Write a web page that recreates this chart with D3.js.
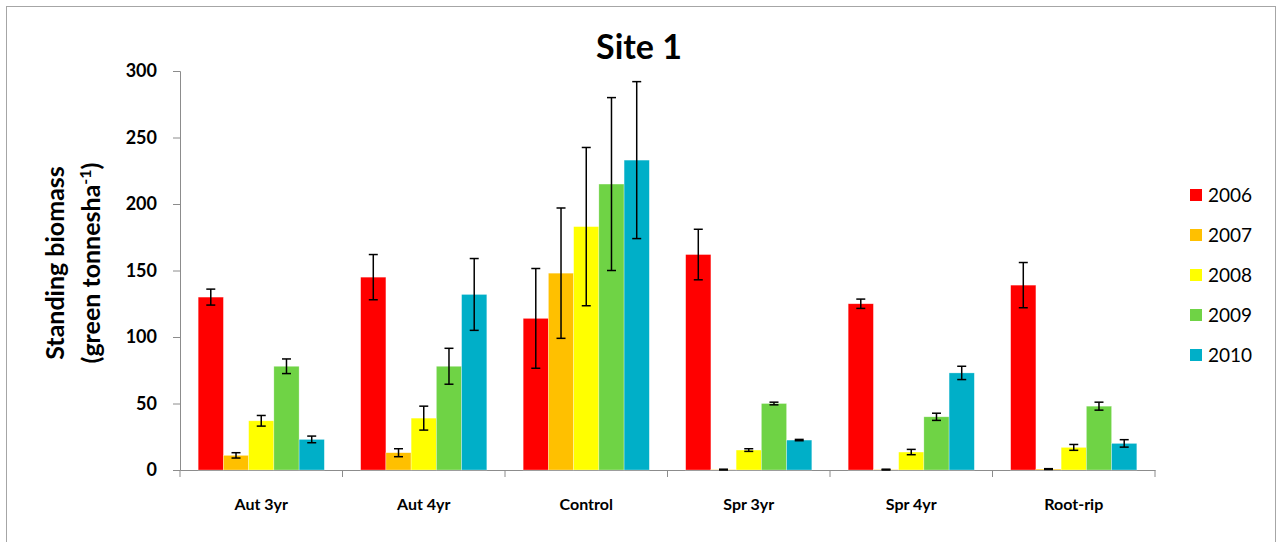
<!DOCTYPE html>
<html lang="en">
<head>
    <meta charset="UTF-8">
    <title>Site 1</title>
    <script src="https://d3js.org/d3.v7.min.js"></script>
    <style>
        body { margin: 0; background: #fff; font-family: Lato, "Open Sans", sans-serif; }
        svg { display: block; }
        .axis path, .axis line { stroke: #8c8c8c; }
    </style>
</head>
<body>
    <svg width="1282" height="542" id="svg"></svg>

    <script>
        // data
        const categories = ["Aut 3yr", "Aut 4yr", "Control", "Spr 3yr", "Spr 4yr", "Root-rip"];
        const years = ["2006", "2007", "2008", "2009", "2010"];
        const colors = ["#ff0000", "#ffc000", "#ffff00", "#6fd345", "#00afc8"];

        const v2006 = [130, 145, 114, 162, 125, 139];
        const v2007 = [11, 13, 148, 0.3, 0.3, 0.7];
        const v2008 = [37, 39, 183, 15, 13.5, 17];
        const v2009 = [78, 78, 215, 50, 40, 48];
        const v2010 = [23, 132, 233, 22.5, 73, 20];

        const e2006 = [6, 17, 37.5, 19, 3.5, 17];
        const e2007 = [2, 3, 49, 0.3, 0.3, 0.3];
        const e2008 = [4, 9, 59.5, 1, 2, 2.2];
        const e2009 = [5.5, 13.5, 65, 1, 2.7, 3];
        const e2010 = [2.5, 27, 59, 0.5, 5, 2.8];

        const yTicks = [0, 50, 100, 150, 200, 250, 300];

        const values = [v2006, v2007, v2008, v2009, v2010];
        const errors = [e2006, e2007, e2008, e2009, e2010];

        const svg = d3.select("#svg");
        const margin = { top: 71, right: 127, bottom: 72, left: 180 };
        const width = 1282, height = 542;

        // outer frame
        svg.append("rect")
            .attr("x", 6.5).attr("y", 6.5)
            .attr("width", 1269).attr("height", 560)
            .attr("fill", "none")
            .attr("stroke", "#a6a6a6");

        const x0 = d3.scaleBand()
            .domain(categories)
            .range([margin.left, width - margin.right]);

        const x1 = d3.scaleBand()
            .domain(years)
            .range([0, x0.bandwidth()])
            .paddingOuter(0.72);

        const y = d3.scaleLinear()
            .domain([0, 300])
            .range([height - margin.bottom, margin.top]);

        // y axis
        const yAxis = svg.append("g")
            .attr("class", "axis")
            .attr("transform", `translate(${margin.left},0)`)
            .call(d3.axisLeft(y).tickValues(yTicks).tickSize(7).tickPadding(16));
        yAxis.selectAll("text")
            .attr("font-size", 18).attr("font-weight", "bold")
            .attr("font-family", "Lato, sans-serif").attr("fill", "#000");

        // x axis
        const xAxis = svg.append("g")
            .attr("class", "axis")
            .attr("transform", `translate(0,${y(0)})`)
            .call(d3.axisBottom(x0).tickSize(0).tickPadding(29));
        xAxis.selectAll("text")
            .attr("font-size", 16).attr("font-weight", "bold")
            .attr("font-family", "Lato, sans-serif").attr("fill", "#000");
        xAxis.selectAll(".sep")
            .data(d3.range(categories.length + 1))
            .enter().append("line")
            .attr("x1", i => margin.left + i * x0.step())
            .attr("x2", i => margin.left + i * x0.step())
            .attr("y1", 0).attr("y2", 7)
            .attr("stroke", "#8c8c8c");

        // bars
        const rows = [];
        years.forEach((yr, s) => {
            categories.forEach((c, i) => {
                rows.push({ cat: c, year: yr, s: s, v: values[s][i], e: errors[s][i] });
            });
        });

        svg.append("g").selectAll("rect")
            .data(rows)
            .enter().append("rect")
            .attr("x", d => x0(d.cat) + x1(d.year))
            .attr("y", d => y(d.v))
            .attr("width", x1.bandwidth())
            .attr("height", d => y(0) - y(d.v))
            .attr("fill", d => colors[d.s])
            .attr("stroke", "rgba(255,255,255,0.5)")
            .attr("stroke-width", 0.6);

        // error bars
        const eb = svg.append("g").attr("stroke", "#000").attr("stroke-width", 1.5);
        const cx = d => x0(d.cat) + x1(d.year) + x1.bandwidth() / 2;
        eb.selectAll(".stem").data(rows).enter().append("line")
            .attr("x1", cx).attr("x2", cx)
            .attr("y1", d => y(d.v + d.e)).attr("y2", d => y(Math.max(0, d.v - d.e)));
        eb.selectAll(".capt").data(rows).enter().append("line")
            .attr("x1", d => cx(d) - 4.5).attr("x2", d => cx(d) + 4.5)
            .attr("y1", d => y(d.v + d.e)).attr("y2", d => y(d.v + d.e));
        eb.selectAll(".capb").data(rows).enter().append("line")
            .attr("x1", d => cx(d) - 4.5).attr("x2", d => cx(d) + 4.5)
            .attr("y1", d => y(Math.max(0, d.v - d.e))).attr("y2", d => y(Math.max(0, d.v - d.e)));

        // title
        svg.append("text")
            .attr("x", 639).attr("y", 59)
            .attr("text-anchor", "middle")
            .attr("font-size", 34).attr("font-weight", "bold")
            .text("Site 1");

        // y axis label
        const yl = svg.append("text")
            .attr("transform", "translate(0,263) rotate(-90)")
            .attr("text-anchor", "middle")
            .attr("font-size", 25).attr("font-weight", "bold");
        yl.append("tspan").attr("x", 0).attr("y", 64).text("Standing biomass");
        const l2 = yl.append("tspan").attr("x", 0).attr("y", 100);
        l2.append("tspan").text("(green tonnesha");
        l2.append("tspan").attr("dy", -9).attr("font-size", 16).text("-1");
        l2.append("tspan").attr("dy", 9).text(")");

        // legend
        const lg = svg.append("g").selectAll("g")
            .data(years)
            .enter().append("g")
            .attr("transform", (d, i) => `translate(1190,${195 + i * 40})`);
        lg.append("rect")
            .attr("x", 0).attr("y", -6)
            .attr("width", 12).attr("height", 12)
            .attr("fill", (d, i) => colors[i]);
        lg.append("text")
            .attr("x", 18).attr("y", 7)
            .attr("font-size", 19)
            .text(d => d);
    </script>
</body>
</html>
